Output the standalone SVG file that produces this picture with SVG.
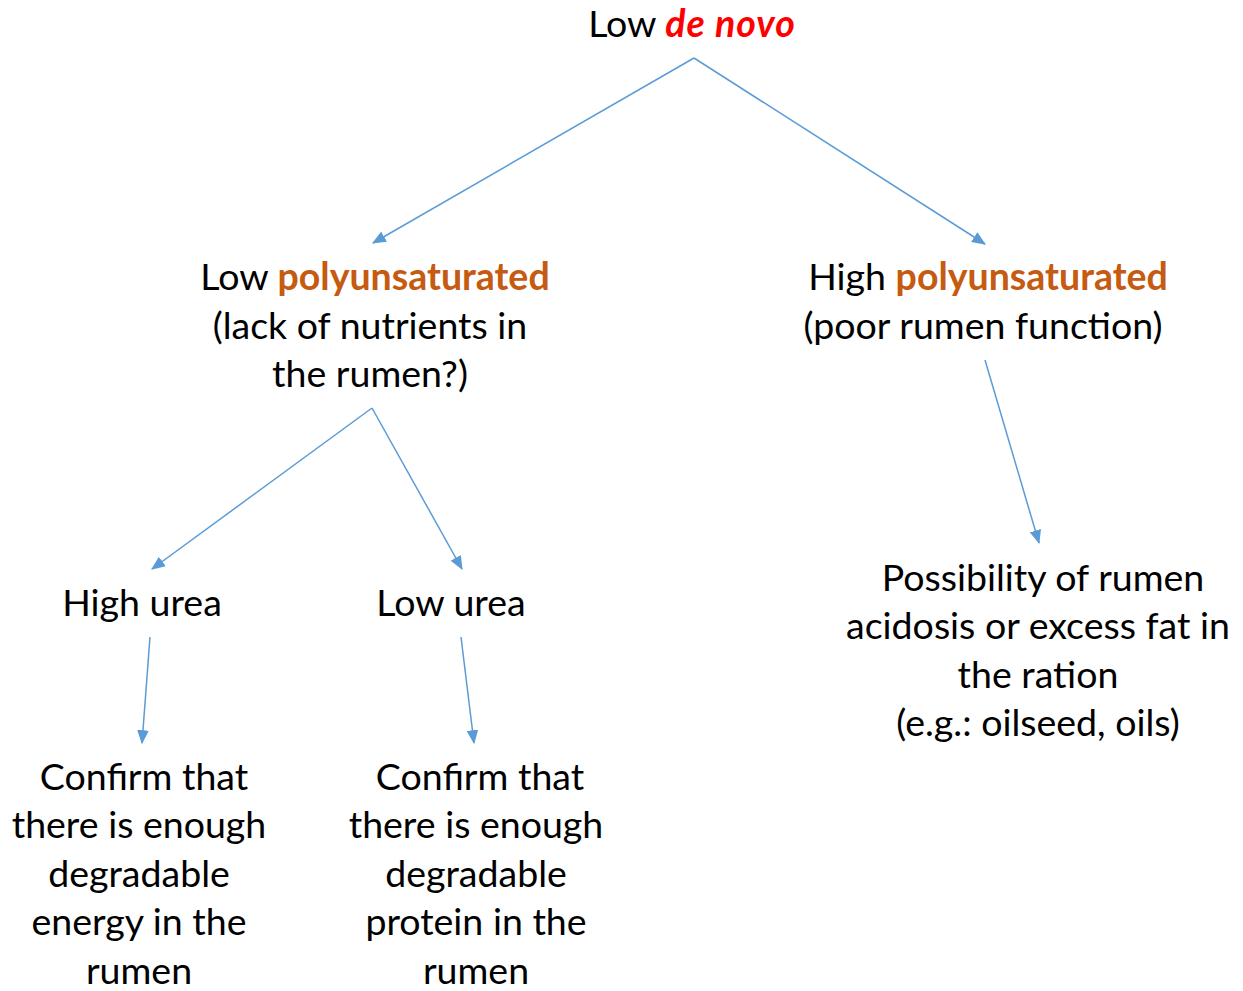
<svg xmlns="http://www.w3.org/2000/svg" width="1243" height="991" viewBox="0 0 1243 991">
<style>
text{font-family:Lato,"Open Sans","Liberation Sans",sans-serif;font-size:37.5px;fill:#000;text-anchor:middle}
.red{fill:#FF0000;font-weight:bold;font-style:italic;letter-spacing:1px}
.org{fill:#C55A11;font-weight:bold}
.c{stroke:#5B9BD5;stroke-width:1.5;fill:none;marker-end:url(#ah)}
</style>
<defs>
<marker id="ah" viewBox="0 0 12 10" refX="11" refY="5" markerWidth="14" markerHeight="12" markerUnits="userSpaceOnUse" orient="auto"><path d="M0,0L12,5L0,10z" fill="#5B9BD5"/></marker>
</defs>
<rect width="1243" height="991" fill="#fff"/>
<g id="connectors">
<line class="c" x1="694" y1="58" x2="373" y2="243"/>
<line class="c" x1="694" y1="58" x2="985" y2="244"/>
<line class="c" x1="372" y1="408" x2="152" y2="569"/>
<line class="c" x1="372" y1="408" x2="462" y2="569"/>
<line class="c" x1="985" y1="360" x2="1039" y2="543"/>
<line class="c" x1="150" y1="637" x2="142" y2="743"/>
<line class="c" x1="461" y1="637" x2="474" y2="743"/>
</g>
<g id="n-root"><text x="692" y="37">Low <tspan class="red">de novo</tspan></text></g>
<g id="n-lowpoly">
<text x="375" y="290">Low <tspan class="org">polyunsaturated</tspan></text>
<text x="370" y="339">(lack of nutrients in</text>
<text x="370" y="387">the rumen?)</text>
</g>
<g id="n-highpoly">
<text x="988" y="290">High <tspan class="org">polyunsaturated</tspan></text>
<text x="983" y="339">(poor rumen function)</text>
</g>
<g id="n-highurea"><text x="142" y="616">High urea</text></g>
<g id="n-lowurea"><text x="451" y="616">Low urea</text></g>
<g id="n-energy">
<text x="144" y="790">Confirm that</text>
<text x="139" y="838">there is enough</text>
<text x="139" y="887">degradable</text>
<text x="139" y="935">energy in the</text>
<text x="139" y="984">rumen</text>
</g>
<g id="n-protein">
<text x="480" y="790">Confirm that</text>
<text x="476" y="838">there is enough</text>
<text x="476" y="887">degradable</text>
<text x="476" y="935">protein in the</text>
<text x="476" y="984">rumen</text>
</g>
<g id="n-acidosis">
<text x="1043" y="591">Possibility of rumen</text>
<text x="1038" y="639">acidosis or excess fat in</text>
<text x="1038" y="688">the ration</text>
<text x="1038" y="736">(e.g.: oilseed, oils)</text>
</g>
</svg>
